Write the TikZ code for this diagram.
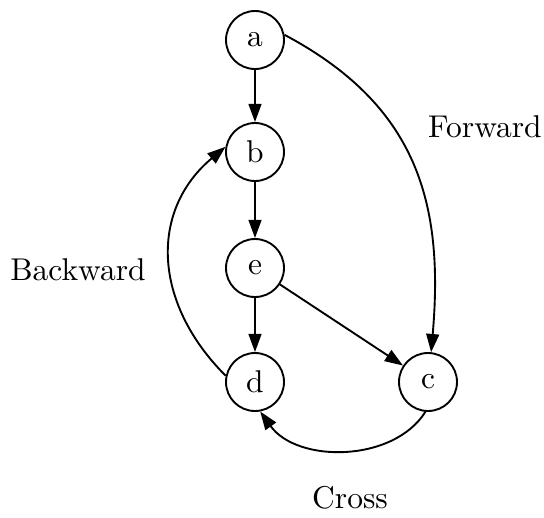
\documentclass[tikz,border=0pt]{standalone}
\usetikzlibrary{arrows.meta}
\begin{document}
\begin{tikzpicture}[x=0.3175pt,y=-0.3175pt,
  vert/.style={circle,draw,line width=0.6pt,minimum size=58*0.3175pt,inner sep=0pt},
  edge/.style={line width=0.6pt,-{Triangle[length=5.8pt,width=4.1pt]}},
  lbl/.style={inner sep=0pt}]
\useasboundingbox (0,0) rectangle (544,517);
\node[vert] (a) at (255,40) {a};
\node[vert] (b) at (255,152) {b};
\node[vert] (e) at (255,268) {e};
\node[vert] (d) at (255,382) {d};
\node[vert] (c) at (428,382) {c};
\node[lbl] (fw) at (485,127) {Forward};
\node[lbl] (bw) at (78,270) {Backward};
\node[lbl] (cr) at (350,498) {Cross};
% tree edges
\draw[edge] (a) -- (b);
\draw[edge] (b) -- (e);
\draw[edge] (e) -- (d);
\draw[edge] (e) -- (c);
% non-tree edges
\draw[edge] (a.10) to[out=-28,in=85,looseness=1.1] (c.84);
\draw[edge] (d.168) .. controls (152,302) and (150,210) .. (b.170);
\draw[edge] (c.-95) .. controls (393,463) and (297,463) .. (d.-80);
\end{tikzpicture}
\end{document}
